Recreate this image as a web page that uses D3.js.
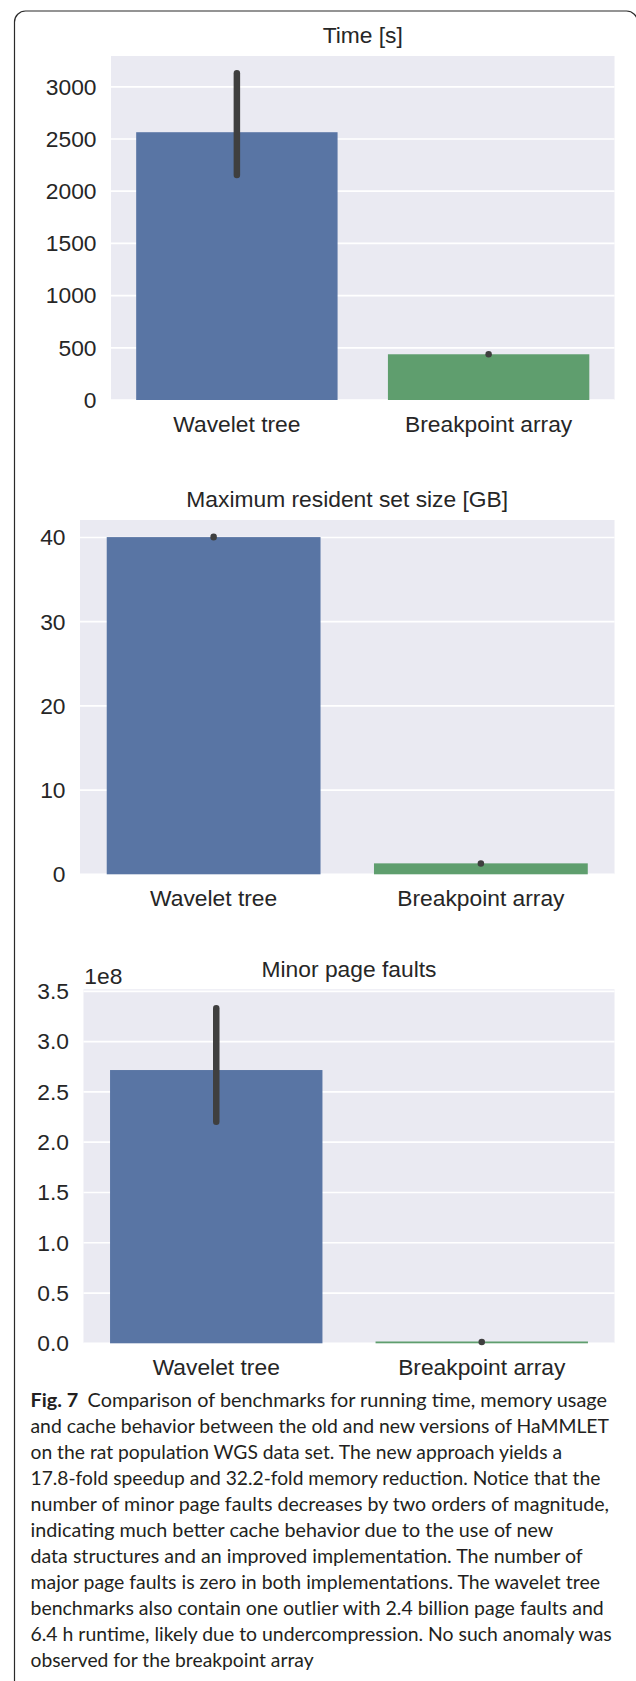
<!DOCTYPE html>
<html>
<head>
<meta charset="utf-8">
<script src="https://cdn.jsdelivr.net/npm/d3@7"></script>
<style>
  html, body { margin: 0; padding: 0; background: #ffffff; }
  svg { display: block; }
</style>
</head>
<body>
<svg id="chart" width="636" height="1681"></svg>
<script>
// ---------------- data ----------------
const categories = ["Wavelet tree", "Breakpoint array"];

const timeTitle = "Time [s]";
const timeValues = [2565, 438];
const timeCILow = [2155, 438];
const timeCIHigh = [3129, 438];
const timeTicks = [0, 500, 1000, 1500, 2000, 2500, 3000];
const timeTickLabels = ["0", "500", "1000", "1500", "2000", "2500", "3000"];
const timeMax = 3295;

const rssTitle = "Maximum resident set size [GB]";
const rssValues = [40.05, 1.3];
const rssCILow = [40.02, 1.27];
const rssCIHigh = [40.08, 1.27];
const rssTicks = [0, 10, 20, 30, 40];
const rssTickLabels = ["0", "10", "20", "30", "40"];
const rssMax = 42.08;

const faultTitle = "Minor page faults";
const faultValues = [2.718e8, 0.018e8];
const faultCILow = [2.204e8, 0.013e8];
const faultCIHigh = [3.332e8, 0.013e8];
const faultTicks = [0, 0.5e8, 1.0e8, 1.5e8, 2.0e8, 2.5e8, 3.0e8, 3.5e8];
const faultTickLabels = ["0.0", "0.5", "1.0", "1.5", "2.0", "2.5", "3.0", "3.5"];
const faultMax = 3.521e8;
const faultOffsetText = "1e8";

const captionBold = "Fig. 7";
const captionLines = [
  "Comparison of benchmarks for running time, memory usage",
  "and cache behavior between the old and new versions of HaMMLET",
  "on the rat population WGS data set. The new approach yields a",
  "17.8-fold speedup and 32.2-fold memory reduction. Notice that the",
  "number of minor page faults decreases by two orders of magnitude,",
  "indicating much better cache behavior due to the use of new",
  "data structures and an improved implementation. The number of",
  "major page faults is zero in both implementations. The wavelet tree",
  "benchmarks also contain one outlier with 2.4 billion page faults and",
  "6.4 h runtime, likely due to undercompression. No such anomaly was",
  "observed for the breakpoint array"
];
const captionLineEnds = [607, 609, 562, 600.3, 609, 553.3, 582.7, 600, 603.7, 611.7, 313.6];

// ---------------- layout / style ----------------
const svg = d3.select("#chart");
const FONT = "'Liberation Sans', Arial, Helvetica, sans-serif";
const TEXT = "#262626";
const BG = "#eaeaf2";
const barColors = ["#5975a4", "#5f9e6e"];
const ERR = "#3f3f3f";
const FS = 22.8;

// frame
svg.append("rect")
  .attr("x", 14.5).attr("y", 11)
  .attr("width", 623).attr("height", 1720)
  .attr("rx", 11).attr("ry", 11)
  .attr("fill", "none").attr("stroke", "#2a2a2a").attr("stroke-width", 1.2);

const panels = [
  { title: timeTitle, values: timeValues, lo: timeCILow, hi: timeCIHigh, ticks: timeTicks,
    labels: timeTickLabels, max: timeMax,
    x0: 111, x1: 614.5, y0: 56, y1: 400, titleY: 43 },
  { title: rssTitle, values: rssValues, lo: rssCILow, hi: rssCIHigh, ticks: rssTicks,
    labels: rssTickLabels, max: rssMax,
    x0: 80, x1: 614.5, y0: 520, y1: 874.3, titleY: 506.7 },
  { title: faultTitle, values: faultValues, lo: faultCILow, hi: faultCIHigh, ticks: faultTicks,
    labels: faultTickLabels, max: faultMax, offsetText: faultOffsetText,
    x0: 83.5, x1: 614.5, y0: 989.3, y1: 1343.3, titleY: 976.5 }
];

panels.forEach(p => {
  const x = d3.scaleBand().domain(categories).range([p.x0, p.x1])
    .paddingInner(0.2).paddingOuter(0.1);
  const y = d3.scaleLinear().domain([0, p.max]).range([p.y1, p.y0]);
  const g = svg.append("g");

  g.append("rect")
    .attr("x", p.x0).attr("y", y(p.max))
    .attr("width", p.x1 - p.x0).attr("height", y(0) - y(p.max))
    .attr("fill", BG);

  g.append("g").selectAll("line").data(p.ticks).join("line")
    .attr("x1", p.x0).attr("x2", p.x1)
    .attr("y1", d => y(d)).attr("y2", d => y(d))
    .attr("stroke", "#ffffff").attr("stroke-width", 1.7);

  g.append("g").selectAll("rect").data(categories).join("rect")
    .attr("x", d => x(d))
    .attr("width", x.bandwidth())
    .attr("y", (d, i) => y(p.values[i]))
    .attr("height", (d, i) => y(0) - y(p.values[i]))
    .attr("fill", (d, i) => barColors[i]);

  g.append("g").selectAll("line").data(categories).join("line")
    .attr("x1", d => x(d) + x.bandwidth() / 2)
    .attr("x2", d => x(d) + x.bandwidth() / 2)
    .attr("y1", (d, i) => y(p.lo[i]))
    .attr("y2", (d, i) => y(p.hi[i]))
    .attr("stroke", ERR).attr("stroke-width", 6.5)
    .attr("stroke-linecap", "round");

  const yAxis = d3.axisLeft(y).tickValues(p.ticks)
    .tickFormat((d, i) => p.labels[i]).tickSize(0).tickPadding(14.5);
  const ya = g.append("g").attr("transform", `translate(${p.x0},0)`).call(yAxis);
  ya.select(".domain").remove();
  ya.selectAll("text").attr("font-family", FONT).attr("font-size", FS).attr("fill", TEXT);

  const xAxis = d3.axisBottom(x).tickSize(0).tickPadding(15.8);
  const xa = g.append("g").attr("transform", `translate(0,${p.y1})`).call(xAxis);
  xa.select(".domain").remove();
  xa.selectAll("text").attr("font-family", FONT).attr("font-size", FS).attr("fill", TEXT);

  g.append("text")
    .attr("x", (p.x0 + p.x1) / 2).attr("y", p.titleY)
    .attr("text-anchor", "middle")
    .attr("font-family", FONT).attr("font-size", FS).attr("fill", TEXT)
    .text(p.title);

  if (p.offsetText) {
    g.append("text")
      .attr("x", p.x0 + 0.8).attr("y", p.y0 - 5.3)
      .attr("font-family", FONT).attr("font-size", FS).attr("fill", TEXT)
      .text(p.offsetText);
  }
});

// caption
const CAP_FONT = "Lato, 'Open Sans', sans-serif";
const capX = 30.5, capY0 = 1407, capDY = 26;
let capFS = 20;
const cap = svg.append("g").attr("font-family", CAP_FONT).attr("fill", "#231f20");

function buildCaption(fs, fit) {
  cap.selectAll("*").remove();
  cap.attr("font-size", fs);
  return captionLines.map((line, i) => {
    const t = cap.append("text")
      .attr("x", capX).attr("y", capY0 + i * capDY);
    if (i === 0) {
      t.append("tspan").attr("font-weight", "bold").text(captionBold);
      t.append("tspan").attr("dx", 9).text(line);
    } else {
      t.text(line);
    }
    if (fit) {
      t.attr("textLength", captionLineEnds[i] - capX).attr("lengthAdjust", "spacingAndGlyphs");
    }
    return t;
  });
}
// measure natural widths, then pick a size whose natural width never exceeds the target
let texts = buildCaption(capFS, false);
let worst = 1;
texts.forEach((t, i) => {
  const w = t.node().getComputedTextLength();
  const r = (captionLineEnds[i] - capX) / w;
  if (r < worst) worst = r;
});
capFS = Math.min(20, capFS * worst);
buildCaption(capFS, true);
</script>
</body>
</html>
